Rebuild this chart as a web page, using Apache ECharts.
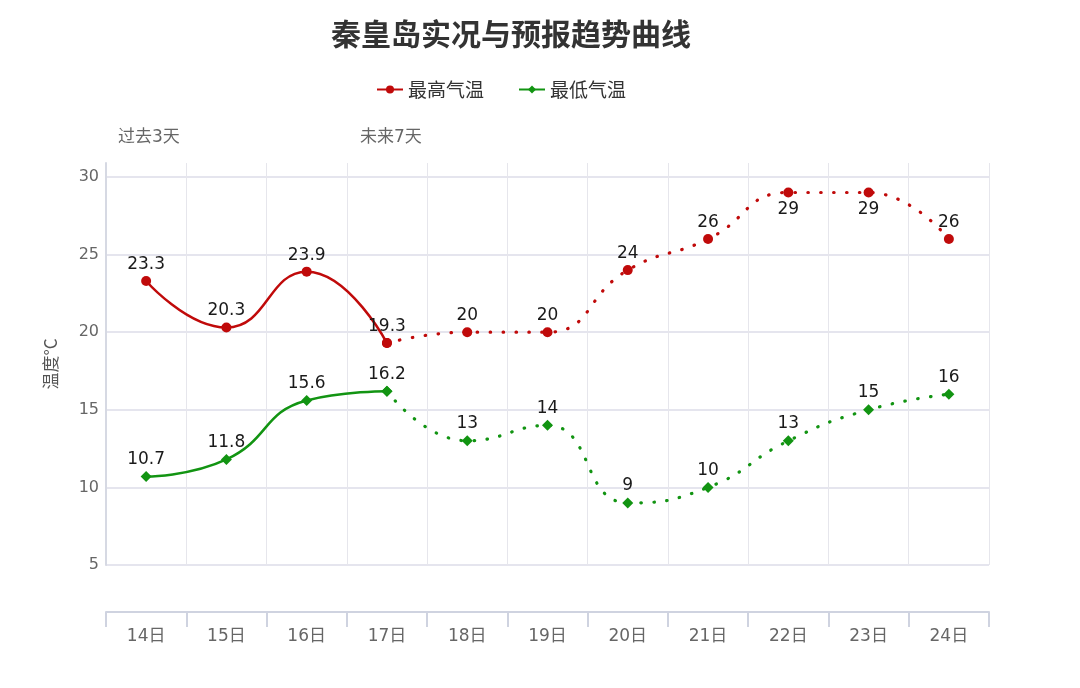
<!DOCTYPE html>
<html>
<head>
<meta charset="utf-8">
<script src="https://cdn.jsdelivr.net/npm/echarts@6/dist/echarts.min.js"></script>
<style>
  html, body { margin: 0; padding: 0; background: #fff; }
  #chart { width: 1080px; height: 688px; }
</style>
</head>
<body>
<div id="chart"></div>
<script>
const days = ['14日', '15日', '16日', '17日', '18日', '19日', '20日', '21日', '22日', '23日', '24日'];
const highPast = [23.3, 20.3, 23.9, 19.3];
const highFuture = [19.3, 20, 20, 24, 26, 29, 29, 26];
const lowPast = [10.7, 11.8, 15.6, 16.2];
const lowFuture = [16.2, 13, 14, 9, 10, 13, 15, 16];
const yTicks = { min: 5, max: 30.9, interval: 5 };

const red = '#c00a0a';
const green = '#129412';
const numFont = 'DejaVu Sans, Noto Sans CJK SC';

// past: first 4 days solid, rest empty
function pastData(vals) {
  return days.map((d, i) => i < vals.length ? vals[i] : '-');
}
// future: starts at the last past day, its label hidden there
function futureData(vals, below) {
  const start = days.length - vals.length;
  return days.map((d, i) => {
    if (i < start) return '-';
    const v = vals[i - start];
    if (i === start) return { value: v, label: { show: false } };
    if (below.indexOf(i) >= 0) return { value: v, label: { position: 'bottom', distance: 4 } };
    return v;
  });
}

const labelStyle = { show: true, position: 'top', distance: 3, color: '#1a1a1a', fontSize: 17, fontFamily: numFont };
const dotted = { type: [0.5, 12.5], width: 3.2, cap: 'round' };

const chart = echarts.init(document.getElementById('chart'));
chart.setOption({
  animation: false,
  title: {
    text: '秦皇岛实况与预报趋势曲线',
    left: 326,
    top: 14,
    textStyle: { fontSize: 30, fontWeight: 'bold', color: '#333', fontFamily: 'Noto Sans CJK SC' }
  },
  legend: {
    top: 75,
    left: 371,
    itemGap: 34,
    itemWidth: 26,
    itemHeight: 10,
    textStyle: { fontSize: 19, color: '#333', fontFamily: 'Noto Sans CJK SC' },
    data: ['最高气温', '最低气温']
  },
  graphic: [
    { type: 'text', left: 118, top: 129, style: { text: '过去3天', fontSize: 17, fill: '#666', fontFamily: numFont } },
    { type: 'text', left: 360, top: 129, style: { text: '未来7天', fontSize: 17, fill: '#666', fontFamily: numFont } }
  ],
  grid: { left: 106, right: 91, top: 163, bottom: 123 },
  xAxis: {
    type: 'category',
    data: days,
    offset: 47,
    axisLine: { show: true, lineStyle: { color: '#cfd3e0', width: 2 } },
    axisTick: { show: true, length: 15, lineStyle: { color: '#cfd3e0', width: 2 } },
    axisLabel: { color: '#666', fontSize: 17, margin: 16, fontFamily: numFont },
    splitLine: { show: true, lineStyle: { color: '#e6e6ec', width: 1 } }
  },
  yAxis: {
    type: 'value',
    min: yTicks.min,
    max: yTicks.max,
    interval: yTicks.interval,
    name: '温度°C',
    nameLocation: 'middle',
    nameGap: 47,
    nameTextStyle: { color: '#555', fontSize: 17, fontFamily: 'Noto Sans CJK SC' },
    axisLine: { show: true, lineStyle: { color: '#d6d9e3', width: 2 } },
    axisTick: { show: false },
    axisLabel: { color: '#666', fontSize: 16, margin: 7, showMaxLabel: false, fontFamily: numFont },
    splitLine: { show: true, showMaxLine: false, lineStyle: { color: '#dcdde8', width: 1.5 } }
  },
  series: [
    {
      name: '最高气温', type: 'line', smooth: 0.5,
      data: pastData(highPast),
      symbol: 'circle', symbolSize: 10,
      itemStyle: { color: red },
      lineStyle: { color: red, width: 2.5 },
      label: labelStyle
    },
    {
      name: '最高气温', type: 'line', smooth: 0.5,
      data: futureData(highFuture, [8, 9]),
      symbol: 'circle', symbolSize: 10,
      itemStyle: { color: red },
      lineStyle: Object.assign({ color: red }, dotted),
      label: labelStyle
    },
    {
      name: '最低气温', type: 'line', smooth: 0.5,
      data: pastData(lowPast),
      symbol: 'diamond', symbolSize: 11,
      itemStyle: { color: green },
      lineStyle: { color: green, width: 2.5 },
      label: labelStyle
    },
    {
      name: '最低气温', type: 'line', smooth: 0.5,
      data: futureData(lowFuture, []),
      symbol: 'diamond', symbolSize: 11,
      itemStyle: { color: green },
      lineStyle: Object.assign({ color: green }, dotted),
      label: labelStyle
    }
  ]
});
</script>
</body>
</html>
